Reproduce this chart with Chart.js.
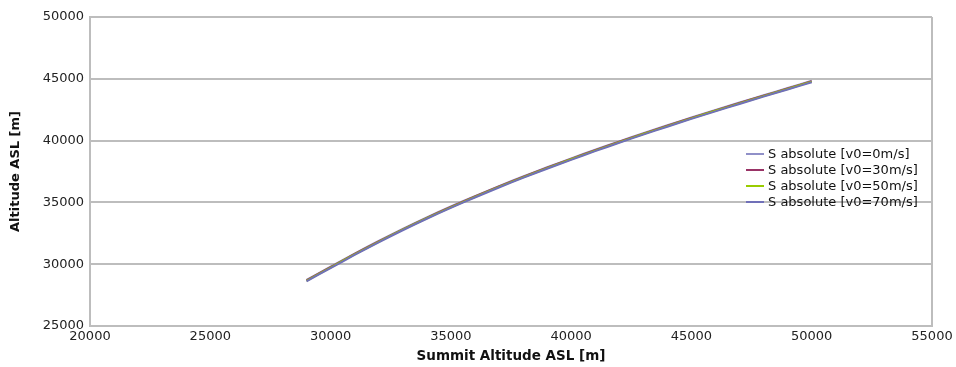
<!DOCTYPE html>
<html>
<head>
<meta charset="utf-8">
<script src="https://cdn.jsdelivr.net/npm/chart.js@4/dist/chart.umd.min.js"></script>
<style>
  html, body { margin: 0; padding: 0; background: #ffffff; }
  #wrap { position: relative; width: 956px; height: 367px; }
  #legend { position: absolute; left: 746px; top: 146px; font-family: "DejaVu Sans", sans-serif; font-size: 13px; color: #111; line-height: 16px; }
  #legend div { display: flex; align-items: center; white-space: nowrap; height: 16px; }
  #legend span.sw { display: inline-block; width: 18px; height: 2px; margin-right: 4px; }
</style>
</head>
<body>
<div id="wrap">
  <canvas id="c" width="956" height="367"></canvas>
  <div id="legend"></div>
</div>
<script>
const summitAltitude = [29000, 30000, 31000, 32000, 33000, 34000, 35000, 36000, 37000, 38000, 39000, 40000, 41000, 42000, 43000, 44000, 45000, 46000, 47000, 48000, 49000, 50000];
const sV0  = [28730, 29800, 30860, 31880, 32860, 33790, 34670, 35510, 36320, 37100, 37840, 38560, 39260, 39940, 40600, 41240, 41870, 42480, 43080, 43670, 44250, 44840];
const sV30 = [28695, 29765, 30825, 31845, 32825, 33755, 34635, 35475, 36285, 37065, 37805, 38525, 39225, 39905, 40565, 41205, 41835, 42445, 43045, 43635, 44215, 44805];
const sV50 = [28660, 29730, 30790, 31810, 32790, 33720, 34600, 35440, 36250, 37030, 37770, 38490, 39190, 39870, 40530, 41170, 41800, 42410, 43010, 43600, 44180, 44770];
const sV70 = [28615, 29685, 30745, 31765, 32745, 33675, 34555, 35395, 36205, 36985, 37725, 38445, 39145, 39825, 40485, 41125, 41755, 42365, 42965, 43555, 44135, 44725];
const seriesLabels = ["S absolute [v0=0m/s]", "S absolute [v0=30m/s]", "S absolute [v0=50m/s]", "S absolute [v0=70m/s]"];
const seriesColors = ["#9090c8", "#993366", "#99cc00", "#7070b8"];
const xTicks = [20000, 25000, 30000, 35000, 40000, 45000, 50000, 55000];
const yTicks = [25000, 30000, 35000, 40000, 45000, 50000];

const seriesValues = [sV0, sV30, sV50, sV70];
const datasets = seriesValues.map((vals, i) => ({
  label: seriesLabels[i],
  data: summitAltitude.map((x, j) => ({ x: x, y: vals[j] })),
  borderColor: seriesColors[i],
  backgroundColor: seriesColors[i],
  borderWidth: 2,
  pointRadius: 0,
  tension: 0.3,
  fill: false,
  order: 3 - i
}));

const gridColor = "#bdbdbd";
const font = { family: "DejaVu Sans", size: 13 };

new Chart(document.getElementById("c"), {
  type: "line",
  data: { datasets },
  options: {
    responsive: false,
    animation: false,
    events: [],
    layout: { padding: { top: 17, right: 24, left: 0, bottom: 0 } },
    plugins: { legend: { display: false }, tooltip: { enabled: false }, title: { display: false } },
    scales: {
      x: {
        type: "linear",
        min: 20000, max: 55000,
        afterBuildTicks: s => { s.ticks = xTicks.map(v => ({ value: v })); },
        afterFit: s => { s.height = 41; },
        grid: {
          drawTicks: false,
          lineWidth: 2,
          color: c => (c.tick && c.tick.value === 55000) ? gridColor : "rgba(0,0,0,0)"
        },
        border: { display: true, color: gridColor, width: 2 },
        ticks: { color: "#222", font, padding: 3, maxRotation: 0, autoSkip: false, callback: v => String(v) },
        title: { display: true, text: "Summit Altitude ASL [m]", color: "#111", font: { family: "DejaVu Sans", size: 13.5, weight: "bold" }, padding: { top: 0, bottom: 2 } }
      },
      y: {
        type: "linear",
        min: 25000, max: 50000,
        afterBuildTicks: s => { s.ticks = yTicks.map(v => ({ value: v })); },
        afterFit: s => { s.width = 90; },
        grid: { drawTicks: false, lineWidth: 2, color: gridColor },
        border: { display: true, color: gridColor, width: 2 },
        ticks: { color: "#222", font, padding: 6, autoSkip: false, callback: v => String(v) },
        title: { display: true, text: "Altitude ASL [m]", color: "#111", font: { family: "DejaVu Sans", size: 13, weight: "bold" }, padding: { top: 8, bottom: 0 } }
      }
    }
  }
});

const leg = document.getElementById("legend");
seriesLabels.forEach((lab, i) => {
  const row = document.createElement("div");
  const sw = document.createElement("span");
  sw.className = "sw";
  sw.style.background = seriesColors[i];
  row.appendChild(sw);
  row.appendChild(document.createTextNode(lab));
  leg.appendChild(row);
});
</script>
</body>
</html>
